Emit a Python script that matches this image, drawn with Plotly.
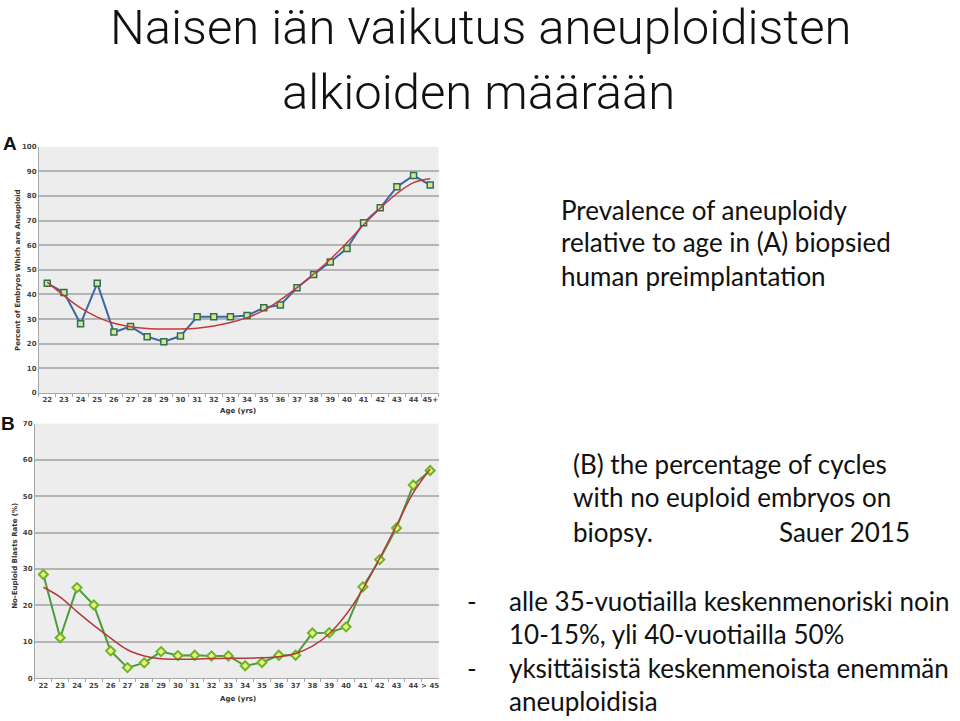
import plotly.graph_objects as go

W, H = 960, 721

ages_a = [str(a) for a in range(22, 45)] + ["45+"]
aneuploid_pct = [44.5, 40.8, 28.1, 44.5, 24.7, 27.0, 22.8, 20.8, 23.1, 30.9, 30.9, 30.9,
                 31.4, 34.6, 35.7, 42.7, 48.1, 53.2, 58.7, 69.1, 75.2, 83.7, 88.3, 84.4]
trend_a = [45.0, 39.5, 34.5, 30.8, 28.3, 26.9, 26.2, 26.0, 26.0, 26.3, 27.2, 28.6,
           30.6, 33.5, 37.8, 42.8, 48.3, 54.3, 61.0, 68.3, 75.0, 81.0, 85.4, 87.0]

ages_b = [str(a) for a in range(22, 45)] + ["> 45"]
no_euploid_pct = [28.5, 11.1, 24.9, 20.1, 7.5, 2.9, 4.2, 7.3, 6.2, 6.3, 6.1, 6.1,
                  3.4, 4.3, 6.3, 6.3, 12.4, 12.5, 14.1, 25.1, 32.6, 41.3, 53.1, 57.1]
trend_b = [25.0, 22.3, 18.3, 14.5, 11.0, 7.8, 6.1, 5.3, 5.2, 5.2, 5.4, 5.5,
           5.5, 5.6, 5.9, 6.8, 8.8, 12.2, 17.5, 24.5, 33.0, 42.0, 51.0, 57.5]

def px(x):
    return x / W

def py(y):
    return 1 - y / H

fig = go.Figure()

fig.add_trace(go.Scatter(x=ages_a, y=aneuploid_pct, mode="lines+markers",
                         line=dict(color="#3e68a3", width=2),
                         marker=dict(symbol="square", size=6, color="#d6e88c",
                                     line=dict(color="#2f6d5e", width=1.5)),
                         xaxis="x", yaxis="y", showlegend=False))
fig.add_trace(go.Scatter(x=ages_a, y=trend_a, mode="lines",
                         line=dict(color="#c23b3b", width=1.5, shape="spline"),
                         xaxis="x", yaxis="y", showlegend=False))

fig.add_trace(go.Scatter(x=ages_b, y=no_euploid_pct, mode="lines+markers",
                         line=dict(color="#4e9a3f", width=2),
                         marker=dict(symbol="diamond", size=7, color="#eef07a",
                                     line=dict(color="#6cb52a", width=2)),
                         xaxis="x2", yaxis="y2", showlegend=False))
fig.add_trace(go.Scatter(x=ages_b, y=trend_b, mode="lines",
                         line=dict(color="#b5393a", width=1.5, shape="spline"),
                         xaxis="x2", yaxis="y2", showlegend=False))

tickfont = dict(family="DejaVu Sans", size=7, color="#444444", weight="bold")
axis_common = dict(showline=True, linecolor="#a8a8a8", linewidth=1, tickfont=tickfont)

fig.update_layout(
    width=W, height=H,
    margin=dict(l=0, r=0, t=0, b=0),
    paper_bgcolor="white",
    plot_bgcolor="#ededed",
    xaxis=dict(domain=[px(39), px(439)], anchor="y", type="category",
               range=[-0.5, 23.5], tickangle=0,
               showgrid=False, ticks="outside", ticklen=3, tickcolor="#a8a8a8",
               tickson="boundaries", **axis_common),
    yaxis=dict(domain=[py(393.3), py(144.3)], anchor="x", range=[0, 100],
               dtick=10, showgrid=True, gridcolor="#b4b4b4", gridwidth=1.5,
               zeroline=False, ticks="", **axis_common),
    xaxis2=dict(domain=[px(35), px(439)], anchor="y2", type="category",
                range=[-0.5, 23.5], tickangle=0,
                showgrid=False, ticks="outside", ticklen=3, tickcolor="#a8a8a8",
                tickson="boundaries", **axis_common),
    yaxis2=dict(domain=[py(681.7), py(424.3)], anchor="x2", range=[0, 70],
                dtick=10, showgrid=True, gridcolor="#b4b4b4", gridwidth=1.5,
                zeroline=False, ticks="", **axis_common),
)

ann = []
def text(x, y, s, size, family="Lato", color="#111111", xanchor="left", yanchor="middle",
         angle=0, bold=False, weight=None):
    if bold:
        s = "<b>" + s + "</b>"
    f = dict(family=family, size=size, color=color)
    if weight is not None:
        f["weight"] = weight
    ann.append(dict(x=px(x), y=py(y), xref="paper", yref="paper", text=s, showarrow=False,
                    xanchor=xanchor, yanchor=yanchor, textangle=angle, font=f))

# Title
title_font = "Roboto"
text(481, -7, "Naisen iän vaikutus aneuploidisten", 49, family=title_font, xanchor="center",
     yanchor="top", weight=300)
text(479, 89, "alkioiden määrään", 49, family=title_font, xanchor="center", weight=300)

# Panel labels and axis titles
text(10, 141, "A", 19, family="Liberation Sans", bold=True, xanchor="center")
text(8, 424, "B", 19, family="Liberation Sans", bold=True, xanchor="center")
text(18, 269, "Percent of Embryos Which are Aneuploid", 7, family="DejaVu Sans", color="#333333", angle=-90, xanchor="center", bold=True)
text(15, 558, "No-Euploid Blasts Rate (%)", 7, family="DejaVu Sans", color="#333333", angle=-90, xanchor="center", bold=True)
text(238, 412, "Age (yrs)", 7, family="DejaVu Sans", color="#333333", xanchor="center", bold=True)
text(238, 703, "Age (yrs)", 7, family="DejaVu Sans", color="#333333", xanchor="center", bold=True)

# Right-side description
body = "Lato"
bs = 26
text(560, 208, "Prevalence of aneuploidy", bs, family=body)
text(560, 241, "relative to age in (A) biopsied", bs, family=body)
text(560, 275, "human preimplantation", bs, family=body)

text(572, 465, "(B) the percentage of cycles", bs, family=body)
text(572, 499, "with no euploid embryos on", bs, family=body)
text(572, 534, "biopsy.", bs, family=body)
text(778, 534, "Sauer 2015", bs, family=body)

text(465, 604, "-", bs, family=body)
text(508, 604, "alle 35-vuotiailla keskenmenoriski noin", bs, family=body)
text(508, 637, "10-15%, yli 40-vuotiailla 50%", bs, family=body)
text(465, 671, "-", bs, family=body)
text(508, 671, "yksittäisistä keskenmenoista enemmän", bs, family=body)
text(508, 705, "aneuploidisia", bs, family=body)

fig.update_layout(annotations=ann)
fig.write_html("out.html")
